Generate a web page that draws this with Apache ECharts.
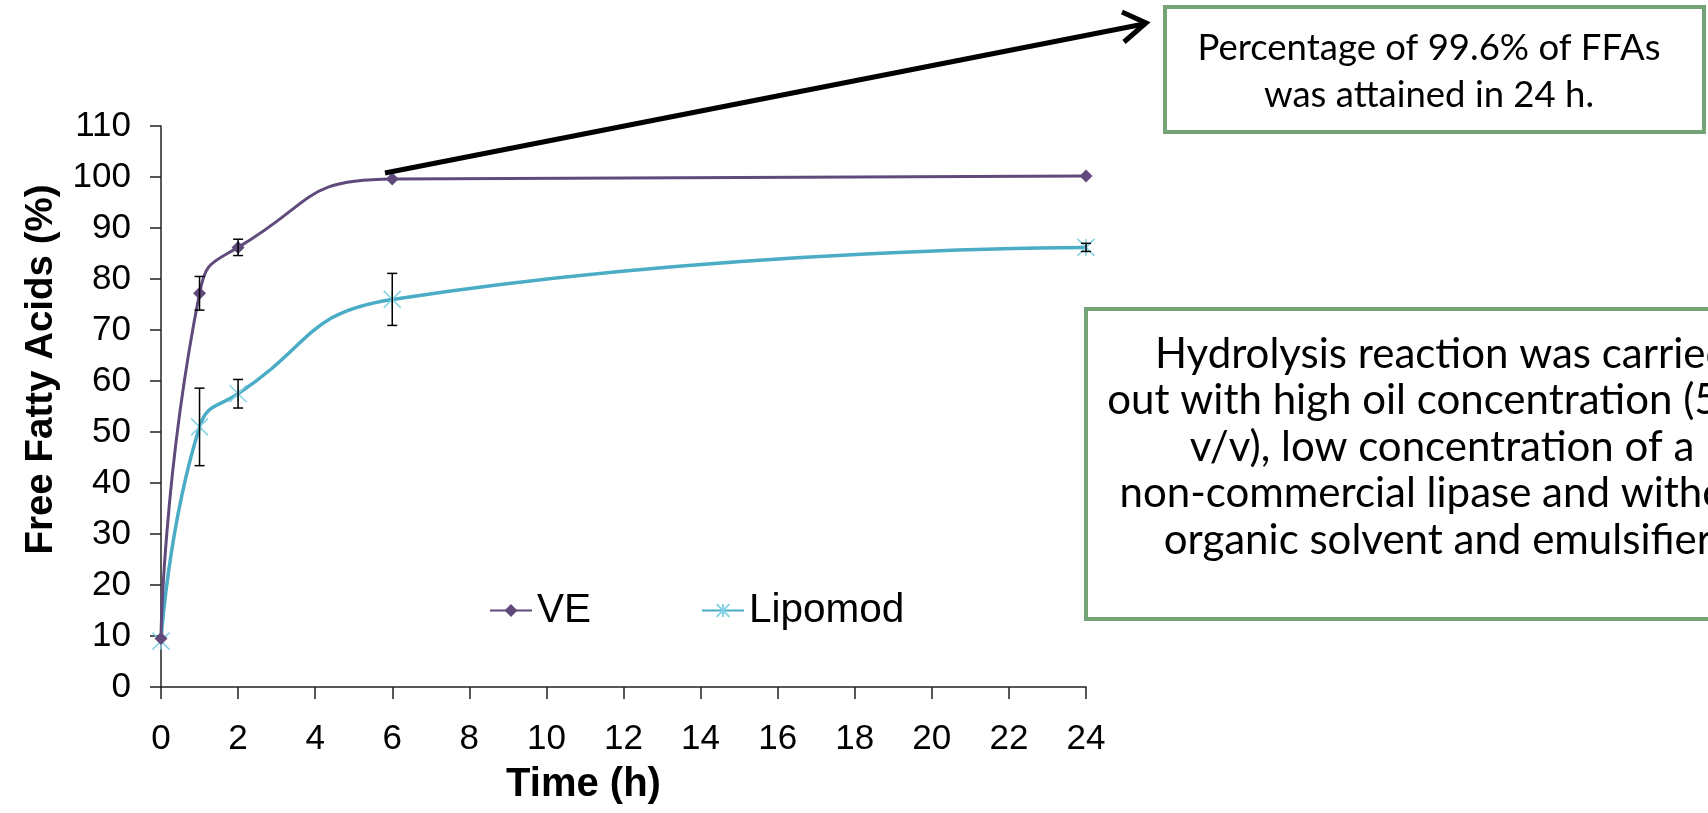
<!DOCTYPE html>
<html>
<head>
<meta charset="utf-8">
<script src="https://cdn.jsdelivr.net/npm/echarts@6/dist/echarts.min.js"></script>
<style>
html,body{margin:0;padding:0;background:#fff;}
#chart{width:1708px;height:813px;}
</style>
</head>
<body>
<div id="chart"></div>
<script>
// ---- data ----
const times = [0, 1, 2, 6, 24];
const veValues = [9.5, 77.2, 86.2, 99.6, 100.2];
const veErrors = [0, 3.3, 1.6, 0, 0];
const lipomodValues = [9, 51, 57.5, 76, 86.2];
const lipomodErrors = [0, 7.6, 2.8, 5.1, 0.8];
const seriesNames = ['VE', 'Lipomod'];
const xTitle = 'Time (h)';
const yTitle = 'Free Fatty Acids (%)';
const note1 = 'Percentage of 99.6% of FFAs\nwas attained in 24 h.';
const note2 = 'Hydrolysis reaction was carried\nout with high oil concentration (50%\nv/v), low concentration of a\nnon-commercial lipase and without\norganic solvent and emulsifier.';

const VE_COLOR = '#604A7B';
const LIPO_COLOR = '#4BACC6';
const GREEN = '#74A378';
const AX_FONT = "'Liberation Sans', Arial, sans-serif";
const NOTE_FONT = "Lato, 'Open Sans', sans-serif";

const pairs = (xs, ys) => xs.map((x, i) => [x, ys[i]]);
const errData = (xs, ys, es) => xs.map((x, i) => [x, ys[i] - es[i], ys[i] + es[i], es[i]]).filter(d => d[3] > 0);

function renderErr(params, api) {
  const x = api.value(0);
  const lo = api.coord([x, api.value(1)]);
  const hi = api.coord([x, api.value(2)]);
  const w = 5;
  const st = { stroke: '#000', lineWidth: 1.5 };
  return {
    type: 'group',
    children: [
      { type: 'line', shape: { x1: hi[0], y1: hi[1], x2: lo[0], y2: lo[1] }, style: st },
      { type: 'line', shape: { x1: hi[0] - w, y1: hi[1], x2: hi[0] + w, y2: hi[1] }, style: st },
      { type: 'line', shape: { x1: lo[0] - w, y1: lo[1], x2: lo[0] + w, y2: lo[1] }, style: st }
    ]
  };
}

const chart = echarts.init(document.getElementById('chart'));
const option = {
  animation: false,
  backgroundColor: '#fff',
  grid: { left: 161, right: 622, top: 126, bottom: 126 },
  legend: {
    data: seriesNames,
    left: 484, top: 585,
    itemWidth: 42, itemHeight: 16, itemGap: 110,
    textStyle: { fontSize: 40.5, color: '#000', fontFamily: AX_FONT }
  },
  xAxis: {
    type: 'value', min: 0, max: 24, interval: 2,
    axisLine: { lineStyle: { color: '#222', width: 1.5 } },
    axisTick: { show: true, length: 12, lineStyle: { color: '#222', width: 1.5 } },
    splitLine: { show: false },
    axisLabel: { fontSize: 35, color: '#000', margin: 35, fontFamily: AX_FONT },
    name: xTitle, nameLocation: 'middle', nameGap: 78,
    nameTextStyle: { fontSize: 40, fontWeight: 'bold', color: '#000', fontFamily: AX_FONT, padding: [0, 80, 0, 0] }
  },
  yAxis: {
    type: 'value', min: 0, max: 110, interval: 10,
    axisLine: { show: true, lineStyle: { color: '#222', width: 1.5 } },
    axisTick: { show: true, length: 11, lineStyle: { color: '#222', width: 1.5 } },
    splitLine: { show: false },
    axisLabel: { fontSize: 35, color: '#000', margin: 30, fontFamily: AX_FONT },
    name: yTitle, nameLocation: 'middle', nameGap: 100,
    nameTextStyle: { fontSize: 38.5, fontWeight: 'bold', color: '#000', fontFamily: AX_FONT, padding: [0, 0, 0, 74] }
  },
  series: [
    {
      name: seriesNames[0], type: 'line', smooth: 0.55,
      data: pairs(times, veValues),
      symbol: 'diamond', symbolSize: 13,
      itemStyle: { color: VE_COLOR },
      lineStyle: { color: VE_COLOR, width: 3 },
      z: 3
    },
    {
      name: seriesNames[1], type: 'line', smooth: 0.5,
      data: pairs(times, lipomodValues),
      symbol: 'path://M0,0L20,20M20,0L0,20M10,0L10,20', symbolSize: 17,
      itemStyle: { color: LIPO_COLOR, borderColor: '#86D3E6', borderWidth: 1.5 },
      lineStyle: { color: LIPO_COLOR, width: 3.5 },
      z: 2
    },
    {
      type: 'custom', renderItem: renderErr, data: errData(times, veValues, veErrors), z: 5, silent: true
    },
    {
      type: 'custom', renderItem: renderErr, data: errData(times, lipomodValues, lipomodErrors), z: 5, silent: true
    }
  ],
  graphic: [
    { type: 'line', shape: { x1: 385, y1: 173, x2: 1144, y2: 24 }, style: { stroke: '#000', lineWidth: 5 }, z: 10 },
    { type: 'polyline', shape: { points: [[1122, 12], [1146, 23], [1124, 42]] }, style: { stroke: '#000', lineWidth: 5, fill: null, lineJoin: 'miter' }, z: 10 },
    { type: 'rect', shape: { x: 1165, y: 7, width: 539, height: 125 }, style: { fill: '#fff', stroke: GREEN, lineWidth: 4 }, z: 10 },
    { type: 'text', style: { text: note1, x: 1429, y: 72, align: 'center', verticalAlign: 'middle', font: '36.5px ' + NOTE_FONT, lineHeight: 47, fill: '#000' }, z: 11 },
    { type: 'rect', shape: { x: 1086, y: 309, width: 720, height: 310 }, style: { fill: '#fff', stroke: GREEN, lineWidth: 4 }, z: 10 },
    { type: 'text', style: { text: note2, x: 1442, y: 447, align: 'center', verticalAlign: 'middle', font: '42px ' + NOTE_FONT, lineHeight: 46.5, fill: '#000' }, z: 11 }
  ]
};
chart.setOption(option);
</script>
</body>
</html>
